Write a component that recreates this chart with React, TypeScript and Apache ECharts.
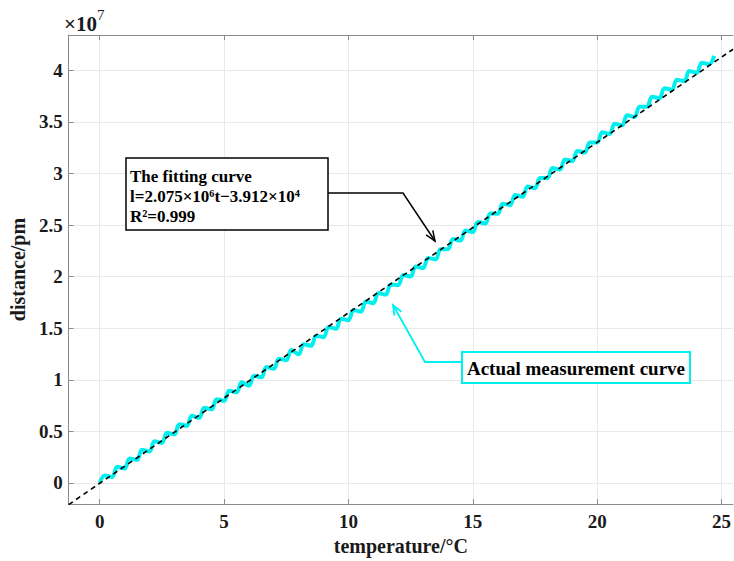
import React, { useEffect, useRef } from "react";
import * as echarts from "echarts";

// Actual measurement curve (temperature in °C, distance in units of 1e7 pm)
const measuredT = [
  0, 0.2, 0.5, 0.7, 1.0, 1.2, 1.5, 1.7, 2.0, 2.2, 2.5, 2.7, 3.0, 3.2, 3.5, 3.7,
  4.0, 4.2, 4.5, 4.7, 5.0, 5.2, 5.5, 5.7, 6.0, 6.2, 6.5, 6.7, 7.0, 7.2, 7.5, 7.7,
  8.0, 8.2, 8.5, 8.7, 9.0, 9.2, 9.5, 9.7, 10.0, 10.2, 10.5, 10.7, 11.0, 11.2, 11.5, 11.7,
  12.0, 12.2, 12.5, 12.7, 13.0, 13.2, 13.5, 13.7, 14.0, 14.2, 14.5, 14.7, 15.0, 15.2, 15.5, 15.7,
  16.0, 16.2, 16.5, 16.7, 17.0, 17.2, 17.5, 17.7, 18.0, 18.2, 18.5, 18.7, 19.0, 19.2, 19.5, 19.7,
  20.0, 20.2, 20.5, 20.7, 21.0, 21.2, 21.5, 21.7, 22.0, 22.2, 22.5, 22.7, 23.0, 23.2, 23.5, 23.7,
  24.0, 24.2, 24.5, 24.7,
];
const measuredY = [
  0, 0.073, 0.058, 0.156, 0.14, 0.238, 0.223, 0.321, 0.306, 0.404, 0.388, 0.486, 0.471, 0.569, 0.554, 0.652,
  0.631, 0.729, 0.714, 0.812, 0.797, 0.895, 0.879, 0.977, 0.942, 1.04, 1.025, 1.123, 1.107, 1.205, 1.19, 1.288,
  1.247, 1.345, 1.33, 1.428, 1.413, 1.511, 1.495, 1.593, 1.578, 1.676, 1.661, 1.759, 1.743, 1.841, 1.826, 1.924,
  1.919, 2.017, 2.001, 2.099, 2.084, 2.182, 2.167, 2.265, 2.267, 2.365, 2.35, 2.448, 2.433, 2.531, 2.515, 2.613,
  2.61, 2.708, 2.693, 2.791, 2.775, 2.873, 2.858, 2.956, 2.955, 3.053, 3.038, 3.136, 3.121, 3.219, 3.203, 3.301,
  3.301, 3.399, 3.384, 3.482, 3.466, 3.564, 3.549, 3.647, 3.647, 3.745, 3.729, 3.827, 3.812, 3.91, 3.895, 3.993,
  3.977, 4.075, 4.06, 4.14,
];

// Fitting line endpoints
const fitT = [-1.25, 25.46];
const fitY = [-0.21, 4.205];

// Tick values
const xTicks = [0, 5, 10, 15, 20, 25];
const yTicks = [0, 0.5, 1, 1.5, 2, 2.5, 3, 3.5, 4];

// Annotation texts
const fitLabelLines = ["The fitting curve", "l=2.075×10⁶t−3.912×10⁴", "R²=0.999"];
const measuredLabel = "Actual measurement curve";

const FONT = "'Liberation Serif', 'Times New Roman', serif";
const AXIS_COLOR = "#8a8a8a";
const GRID_COLOR = "#e9e9e9";

export default function App() {
  const ref = useRef<HTMLDivElement>(null);

  useEffect(() => {
    if (!ref.current) return;
    const chart = echarts.init(ref.current, undefined, { renderer: "svg" });

    const measured = measuredT.map((t, i) => [t, measuredY[i]]);
    const fit = fitT.map((t, i) => [t, fitY[i]]);

    const labelStyle = {
      fontFamily: FONT,
      fontWeight: "bold" as const,
      fontSize: 19,
      color: "#1a1a1a",
    };

    const arrowV = (tip: number[], from: number[], len = 10, half = 4) => {
      const dx = tip[0] - from[0];
      const dy = tip[1] - from[1];
      const L = Math.hypot(dx, dy);
      const ux = dx / L;
      const uy = dy / L;
      const bx = tip[0] - ux * len;
      const by = tip[1] - uy * len;
      return [
        [bx - uy * half, by + ux * half],
        tip,
        [bx + uy * half, by - ux * half],
      ];
    };

    chart.setOption({
      animation: false,
      backgroundColor: "#ffffff",
      grid: { left: 63, right: 0, top: 35, bottom: 53, containLabel: false },
      xAxis: [
        {
          type: "value",
          min: fitT[0],
          max: fitT[1],
          position: "bottom",
          name: "temperature/°C",
          nameLocation: "middle",
          nameGap: 29,
          nameTextStyle: { ...labelStyle, fontSize: 20 },
          axisLine: { show: true, onZero: false, lineStyle: { color: AXIS_COLOR, width: 1 } },
          axisTick: { show: true, inside: true, length: 5, customValues: xTicks, lineStyle: { color: AXIS_COLOR } },
          axisLabel: { ...labelStyle, margin: 8, customValues: xTicks },
          splitLine: { show: true, lineStyle: { color: GRID_COLOR, width: 1 } },
        },
        {
          type: "value",
          min: fitT[0],
          max: fitT[1],
          position: "top",
          axisLine: { show: true, onZero: false, lineStyle: { color: AXIS_COLOR, width: 1 } },
          axisTick: { show: true, inside: true, length: 5, customValues: xTicks, lineStyle: { color: AXIS_COLOR } },
          axisLabel: { show: false },
          splitLine: { show: false },
        },
      ],
      yAxis: [
        {
          type: "value",
          min: -0.205,
          max: 4.343,
          name: "distance/pm",
          nameLocation: "middle",
          nameGap: 18,
          nameTextStyle: { ...labelStyle, fontSize: 20 },
          axisLine: { show: true, onZero: false, lineStyle: { color: AXIS_COLOR, width: 1 } },
          axisTick: { show: true, inside: true, length: 5, customValues: yTicks, lineStyle: { color: AXIS_COLOR } },
          axisLabel: { ...labelStyle, margin: 6, customValues: yTicks, formatter: (v: number) => String(v) },
          splitLine: { show: true, lineStyle: { color: GRID_COLOR, width: 1 } },
        },
      ],
      series: [
        {
          name: "Actual measurement curve",
          type: "line",
          data: measured,
          showSymbol: false,
          symbol: "none",
          smooth: 0.35,
          lineStyle: { color: "#00f0f0", width: 4 },
          z: 2,
        },
        {
          name: "The fitting curve",
          type: "line",
          data: fit,
          showSymbol: false,
          symbol: "none",
          lineStyle: { color: "#000000", width: 1.6, type: [5, 4] },
          z: 3,
        },
      ],
      graphic: [
        {
          type: "text",
          left: 64,
          top: 7,
          style: {
            text: "{a|×10}{s|7}",
            rich: {
              a: { fontFamily: FONT, fontWeight: "bold", fontSize: 21, fill: "#1a1a1a", verticalAlign: "bottom", lineHeight: 27 },
              s: { fontFamily: FONT, fontSize: 15, fill: "#1a1a1a", verticalAlign: "top", lineHeight: 27 },
            },
          },
        },
        {
          type: "rect",
          shape: { x: 126, y: 158, width: 202, height: 72 },
          style: { fill: "#ffffff", stroke: "#000000", lineWidth: 1.5 },
          z: 10,
        },
        ...fitLabelLines.map((line, i) => ({
          type: "text",
          x: 130,
          y: 176 + i * 20,
          z: 11,
          style: {
            text: line,
            fontFamily: FONT,
            fontWeight: "bold",
            fontSize: 17,
            fill: "#000",
            textAlign: "left",
            textVerticalAlign: "middle",
          },
        })),
        {
          type: "polyline",
          z: 10,
          shape: { points: [[328, 193], [403, 193], [435, 241]] },
          style: { stroke: "#000000", lineWidth: 1.5, fill: "none" },
        },
        {
          type: "polyline",
          z: 10,
          shape: { points: arrowV([435, 241], [403, 193]) },
          style: { stroke: "#000000", lineWidth: 1.5, fill: "none" },
        },
        {
          type: "rect",
          shape: { x: 462, y: 352, width: 228, height: 31 },
          style: { fill: "#ffffff", stroke: "#00f0f0", lineWidth: 2 },
          z: 10,
        },
        {
          type: "text",
          x: 576,
          y: 368,
          z: 11,
          style: {
            text: measuredLabel,
            fontFamily: FONT,
            fontWeight: "bold",
            fontSize: 19,
            fill: "#000",
            textAlign: "center",
            textVerticalAlign: "middle",
          },
        },
        {
          type: "polyline",
          z: 10,
          shape: { points: [[462, 362], [425, 362], [393, 305]] },
          style: { stroke: "#00f0f0", lineWidth: 1.8, fill: "none" },
        },
        {
          type: "polyline",
          z: 10,
          shape: { points: arrowV([393, 305], [425, 362]) },
          style: { stroke: "#00f0f0", lineWidth: 1.8, fill: "none" },
        },
      ],
    });

    return () => chart.dispose();
  }, []);

  return (
    <div
      ref={ref}
      style={{ position: "absolute", left: 0, top: 0, width: 734, height: 561 }}
    />
  );
}
